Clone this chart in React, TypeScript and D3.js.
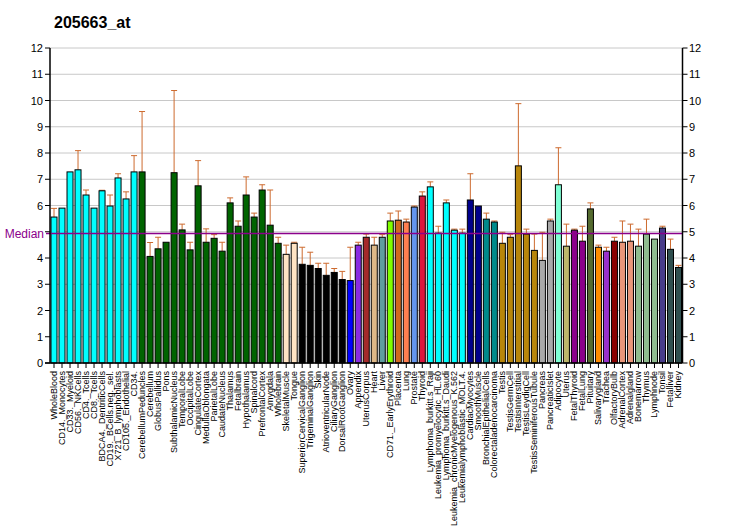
import React from "react";
import * as d3 from "d3";

const title = "205663_at";

const categories = [
  "WholeBlood", "CD14._Monocytes", "CD33._Myeloid", "CD56._NKCells", "CD4._Tcells", "CD8._Tcells",
  "BDCA4._DentriticCells", "CD19._BCells.neg._sel.", "X721_B_lymphoblasts", "CD105._Endothelial", "CD34.",
  "CerebellumPeduncles", "Cerebellum", "GlobusPallidus", "Pons", "SubthalamicNucleus", "TemporalLobe",
  "OccipitalLobe", "CingulateCortex", "MedullaOblongata", "ParietalLobe", "CaudateNucleus", "Thalamus",
  "Fetalbrain", "Hypothalamus", "Spinalcord", "PrefrontalCortex", "Amygdala", "Wholebrain",
  "SkeletalMuscle", "Tongue", "SuperiorCervicalGanglion", "TrigeminalGanglion", "Skin",
  "AtrioventricularNode", "CiliaryGanglion", "DorsalRootGanglion", "Ovary", "Appendix", "UterusCorpus",
  "Heart", "Liver", "CD71._EarlyErythroid", "Placenta", "Lung", "Prostate", "Thyroid",
  "Lymphoma_burkitt.s_Raji", "Leukemia_promyelocytic_HL.60", "Lymphoma_burkitt.s_Daudi",
  "Leukemia_chronicMyelogenous_K.562", "Leukemialymphoblastic_MOLT.4.", "CardiacMyocytes",
  "SmoothMuscle", "BronchialEpithelialCells", "Colorectaladenocarcinoma", "Testis", "TestisGermCell",
  "TestisInterstitial", "TestisLeydigCell", "TestisSeminiferousTubule", "Pancreas", "PancreaticIslet",
  "Adipocyte", "Uterus", "FetalThyroid", "FetalLung", "Pituitary", "Salivarygland", "Trachea",
  "OlfactoryBulb", "AdrenalCortex", "Adrenalgland", "Bonemarrow", "Thymus", "Lymphnode", "Tonsil",
  "Fetalliver", "Kidney",
];

const values = [
  5.56, 5.90, 7.28, 7.36, 6.40, 5.90, 6.56, 5.98, 7.05, 6.25, 7.28,
  7.28, 4.06, 4.35, 4.60, 7.25, 5.07, 4.31, 6.75, 4.60, 4.75, 4.26, 6.10,
  5.21, 6.40, 5.56, 6.59, 5.25, 4.56,
  4.14, 4.56, 3.76, 3.72, 3.60, 3.34, 3.45, 3.18, 3.14, 4.49, 4.79,
  4.49, 4.79, 5.41, 5.44, 5.37, 5.94, 6.36,
  6.71, 4.95, 6.10, 5.06, 4.95, 6.21,
  5.98, 5.48, 5.37, 4.56, 4.79,
  7.51, 4.91, 4.29, 3.91, 5.41,
  6.79, 4.45, 5.06, 4.64, 5.87, 4.41, 4.26,
  4.64, 4.60, 4.64, 4.45, 4.91, 4.72, 5.14,
  4.33, 3.64,
];

// upper end of the error bar (null = no visible error bar)
const errorTops: (number | null)[] = [
  5.89, null, null, 8.09, 6.59, null, 6.58, 6.40, 7.21, 6.52, 7.90,
  9.58, 4.59, 4.79, null, 10.38, 5.29, 4.60, 7.71, 5.11, 4.89, 4.60, 6.29,
  5.41, 7.09, 5.71, 6.79, 6.59, 4.79,
  4.49, 4.60, 4.41, 4.22, 3.80, 3.80, 3.60, 3.49, 4.41, 4.60, 4.91,
  4.79, 4.89, 5.71, 5.79, 5.48, 5.98, 6.52,
  6.90, 5.21, 6.21, 5.10, 5.10, 7.21,
  null, 5.71, 5.41, 4.98, 4.89,
  9.88, 5.10, 4.91, 4.98, 5.48,
  8.20, 5.29, 5.10, 5.21, 6.10, 4.49, 4.41,
  4.79, 5.41, 5.29, 5.10, 5.48, null, 5.21,
  4.72, 3.72,
];

const colors = [
  ...Array(11).fill("#00FFFF"),
  ...Array(18).fill("#006400"),
  "#FFE4C4", "#FFE4C4",
  ...Array(6).fill("#000000"),
  "#0000FF", "#8A2BE2", "#A52A2A", "#DEB887", "#5F9EA0", "#7FFF00", "#D2691E", "#FF7F50",
  "#6495ED", "#DC143C",
  ...Array(5).fill("#00FFFF"),
  "#00008B", "#00008B", "#008B8B", "#008B8B",
  ...Array(5).fill("#B8860B"),
  "#A9A9A9", "#A9A9A9", "#7FFFD4", "#BDB76B", "#8B008B", "#8B008B", "#556B2F", "#FF8C00",
  "#9932CC", "#8B0000", "#E9967A", "#E9967A", "#8FBC8F", "#8FBC8F", "#8FBC8F", "#483D8B",
  "#2F4F4F", "#2F4F4F",
];

const yTicks = [0, 1, 2, 3, 4, 5, 6, 7, 8, 9, 10, 11, 12];
const medianValue = 4.93;

export default function App() {
  const W = 732, H = 530;
  const left = 50, right = 682.5, top = 48, bottom = 363;
  const x = d3.scaleBand<string>().domain(categories).range([left, right]).paddingInner(0.25).paddingOuter(0.125);
  const y = d3.scaleLinear().domain([0, 12]).range([bottom, top]);
  const font = "Arial, 'Liberation Sans', sans-serif";
  const bw = x.bandwidth();
  const errColor = "#CD6A2E";

  return (
    <svg width={W} height={H} style={{ position: "absolute", left: 0, top: 0, background: "#fff" }} fontFamily={font}>
      <rect x={0} y={0} width={W} height={H} fill="#fff" />
      <text x={54} y={28} fontSize={16} fontWeight="bold" fill="#000">{title}</text>
      {yTicks.slice(1).map((t) => (
        <line key={"g" + t} x1={left} x2={right} y1={y(t)} y2={y(t)} stroke="#C8C8C8" strokeWidth={1} />
      ))}
      {categories.map((c, i) => {
        const cx = (x(c) as number) + bw / 2;
        const et = errorTops[i];
        return (
          <g key={c}>
            {et !== null && (
              <g stroke={errColor} strokeWidth={1}>
                <line x1={cx} x2={cx} y1={y(values[i])} y2={y(et)} />
                <line x1={cx - 3} x2={cx + 3} y1={y(et)} y2={y(et)} />
              </g>
            )}
            <rect x={x(c)} y={y(values[i])} width={bw} height={bottom - y(values[i])} fill={colors[i]} stroke="#000" strokeWidth={1} />
          </g>
        );
      })}
      <line x1={46} x2={right} y1={y(medianValue)} y2={y(medianValue)} stroke="#8B008B" strokeWidth={1.5} />
      <text x={44} y={y(medianValue) + 4} fontSize={12} fill="#8B008B" textAnchor="end">Median</text>
      {/* axes */}
      <line x1={left} x2={left} y1={top} y2={bottom} stroke="#000" strokeWidth={1.5} />
      <line x1={right} x2={right} y1={top} y2={bottom} stroke="#000" strokeWidth={1.5} />
      <line x1={left - 5} x2={right} y1={bottom} y2={bottom} stroke="#000" strokeWidth={1.5} />
      {yTicks.map((t) => (
        <g key={"t" + t}>
          <line x1={left - 5} x2={left} y1={y(t)} y2={y(t)} stroke="#000" />
          {t !== 5 && <text x={43} y={y(t) + 4} fontSize={11} textAnchor="end" fill="#000">{t}</text>}
          <line x1={right} x2={right + 5} y1={y(t)} y2={y(t)} stroke="#000" />
          <text x={689} y={y(t) + 4} fontSize={11} textAnchor="start" fill="#000">{t}</text>
        </g>
      ))}
      {categories.map((c) => {
        const cx = (x(c) as number) + bw / 2;
        return (
          <g key={"l" + c}>
            <line x1={cx} x2={cx} y1={bottom} y2={bottom + 5} stroke="#000" />
            <text transform={`translate(${cx + 3},${371}) rotate(-90)`} fontSize={9} textAnchor="end" fill="#000">{c}</text>
          </g>
        );
      })}
    </svg>
  );
}
